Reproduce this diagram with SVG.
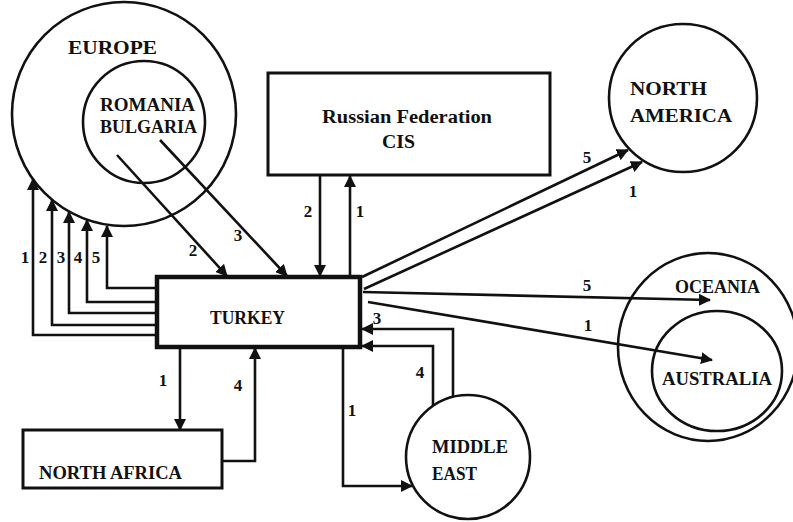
<svg xmlns="http://www.w3.org/2000/svg" width="793" height="522" viewBox="0 0 793 522">
<style>
.bg{fill:#fff}
.node{fill:none;stroke:#111;stroke-width:2.6}
.box{fill:none;stroke:#111;stroke-width:3}
.tbox{fill:none;stroke:#111;stroke-width:4.5}
.lbl{font-family:"Liberation Serif","Times New Roman",serif;font-weight:bold;fill:#111;font-size:18px}
.num{font-family:"Liberation Serif","Times New Roman",serif;font-weight:bold;fill:#111;font-size:17px;text-anchor:middle}
.c{fill:none;stroke:#111;stroke-width:2.6;marker-end:url(#ah)}
</style>
<defs>
<marker id="ah" viewBox="0 0 12 12" refX="11" refY="6" markerWidth="12" markerHeight="12" markerUnits="userSpaceOnUse" orient="auto">
<path d="M0,0 L12,6 L0,12 Z" fill="#111"/>
</marker>
</defs>
<rect class="bg" width="793" height="522"/>
<g id="europe">
<circle class="node" cx="124" cy="114" r="112"/>
<text class="lbl" x="68" y="54" font-size="20" textLength="89" lengthAdjust="spacingAndGlyphs">EUROPE</text>
</g>
<g id="romania-bulgaria">
<circle class="node" cx="144" cy="122" r="61"/>
<text class="lbl" x="100" y="111" textLength="95" lengthAdjust="spacingAndGlyphs">ROMANIA</text>
<text class="lbl" x="100" y="133" textLength="97" lengthAdjust="spacingAndGlyphs">BULGARIA</text>
</g>
<g id="russia">
<rect class="box" x="268" y="73" width="282" height="102"/>
<text class="lbl" x="322" y="123" font-size="19" textLength="170" lengthAdjust="spacingAndGlyphs">Russian Federation</text>
<text class="lbl" x="382" y="148" font-size="19" textLength="33" lengthAdjust="spacingAndGlyphs">CIS</text>
</g>
<g id="north-america">
<circle class="node" cx="683" cy="98" r="74"/>
<text class="lbl" x="630" y="95" font-size="19" textLength="77" lengthAdjust="spacingAndGlyphs">NORTH</text>
<text class="lbl" x="630" y="122" font-size="19" textLength="102" lengthAdjust="spacingAndGlyphs">AMERICA</text>
</g>
<g id="turkey">
<rect class="tbox" x="157" y="277" width="203" height="70"/>
<text class="lbl" x="210" y="324" textLength="75" lengthAdjust="spacingAndGlyphs">TURKEY</text>
</g>
<g id="oceania">
<ellipse class="node" cx="708" cy="347" rx="90" ry="94"/>
<text class="lbl" x="675" y="293" font-size="17" textLength="85" lengthAdjust="spacingAndGlyphs">OCEANIA</text>
</g>
<g id="australia">
<ellipse class="node" cx="717" cy="371" rx="65" ry="60"/>
<text class="lbl" x="662" y="385" font-size="17" textLength="110" lengthAdjust="spacingAndGlyphs">AUSTRALIA</text>
</g>
<g id="middle-east">
<circle class="node" cx="468" cy="457" r="62"/>
<text class="lbl" x="432" y="453" textLength="76" lengthAdjust="spacingAndGlyphs">MIDDLE</text>
<text class="lbl" x="432" y="480" textLength="45" lengthAdjust="spacingAndGlyphs">EAST</text>
</g>
<g id="north-africa">
<rect class="box" x="23" y="430" width="199" height="58"/>
<text class="lbl" x="39" y="479" font-size="17" textLength="143" lengthAdjust="spacingAndGlyphs">NORTH AFRICA</text>
</g>
<g id="connectors">
<path class="c" d="M157,335 H33 V179"/>
<path class="c" d="M157,325 H52 V200"/>
<path class="c" d="M157,313 H69 V212"/>
<path class="c" d="M157,302 H87 V220"/>
<path class="c" d="M157,288 H107 V226"/>
<path class="c" d="M117,155 L227,276"/>
<path class="c" d="M160,140 L287,276"/>
<path class="c" d="M320,175 V276"/>
<path class="c" d="M350,277 V176"/>
<path class="c" d="M362,277 L628,150"/>
<path class="c" d="M364,289 L642,162"/>
<path class="c" d="M363,292 L710,300"/>
<path class="c" d="M368,302 L712,360"/>
<path class="c" d="M453,397 V329 H362"/>
<path class="c" d="M433,406 V346 H362"/>
<path class="c" d="M343,347 V486 H412"/>
<path class="c" d="M180,347 V430"/>
<path class="c" d="M222,461 H255 V348"/>
<text class="num" x="25" y="263">1</text>
<text class="num" x="43" y="263">2</text>
<text class="num" x="61" y="263">3</text>
<text class="num" x="78" y="263">4</text>
<text class="num" x="96" y="263">5</text>
<text class="num" x="193" y="256">2</text>
<text class="num" x="238" y="241">3</text>
<text class="num" x="308" y="217">2</text>
<text class="num" x="360" y="217">1</text>
<text class="num" x="587" y="163">5</text>
<text class="num" x="633" y="197">1</text>
<text class="num" x="587" y="291">5</text>
<text class="num" x="588" y="331">1</text>
<text class="num" x="377" y="324">3</text>
<text class="num" x="420" y="378">4</text>
<text class="num" x="352" y="416">1</text>
<text class="num" x="163" y="386">1</text>
<text class="num" x="238" y="391">4</text>
</g>
</svg>
